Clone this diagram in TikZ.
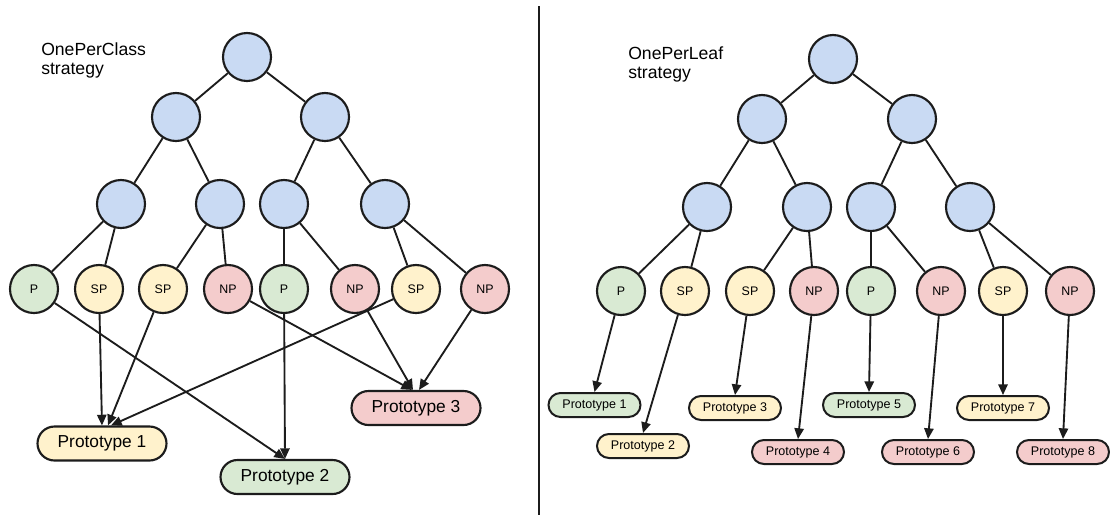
\documentclass[tikz,border=0pt]{standalone}
\usepackage{fontspec}
\setmainfont{Liberation Sans}
\usetikzlibrary{shapes.misc,arrows.meta}
\definecolor{nodeblue}{RGB}{201,218,243}
\definecolor{leafgreen}{RGB}{217,234,211}
\definecolor{leafyellow}{RGB}{255,242,204}
\definecolor{leafred}{RGB}{244,204,204}
\definecolor{inkline}{RGB}{28,28,28}
\begin{document}
\begin{tikzpicture}[x=0.75pt,y=-0.75pt,
  treenode/.style={circle,draw=inkline,line width=1.6pt,fill=nodeblue,minimum size=36pt,inner sep=0pt},
  leafnode/.style={circle,draw=inkline,line width=1.6pt,minimum size=36pt,inner sep=0pt,font=\fontsize{9.3}{11}\selectfont},
  posleaf/.style={leafnode,fill=leafgreen},
  semileaf/.style={leafnode,fill=leafyellow},
  negleaf/.style={leafnode,fill=leafred},
  link/.style={line width=1.4pt,draw=inkline},
  arr/.style={link,-{Triangle[length=8pt,width=7pt]}},
  protoL/.style={rounded rectangle,draw=inkline,line width=1.6pt,minimum width=96.75pt,minimum height=25.5pt,inner sep=0pt,font=\fontsize{13}{15}\selectfont},
  protoR/.style={rounded rectangle,draw=inkline,line width=1.5pt,minimum width=69pt,minimum height=18pt,inner sep=0pt,font=\fontsize{9.4}{11}\selectfont},
  heading/.style={anchor=north west,inner sep=0pt,align=left,font=\fontsize{13.2}{14.25}\selectfont}
]
\useasboundingbox (0,0) rectangle (1110,515);

% divider
\coordinate (divtop) at (539,6);
\coordinate (divbot) at (539,515);
\draw[line width=1.5pt,draw=inkline] (divtop) -- (divbot);

% ---------------- Left: OnePerClass ----------------
\node[heading] (tl) at (41,42) {OnePerClass\\strategy};

\node[treenode] (ra) at (247,57) {};
\node[treenode] (a1) at (176,117) {};
\node[treenode] (a2) at (325,117) {};
\node[treenode] (b1) at (121,204) {};
\node[treenode] (b2) at (220,204) {};
\node[treenode] (b3) at (284,204) {};
\node[treenode] (b4) at (385,204) {};

\node[posleaf]  (la1) at (34,289) {P};
\node[semileaf] (la2) at (99,289) {SP};
\node[semileaf] (la3) at (163,289) {SP};
\node[negleaf]  (la4) at (228,289) {NP};
\node[posleaf]  (la5) at (284,289) {P};
\node[negleaf]  (la6) at (355,289) {NP};
\node[semileaf] (la7) at (416,289) {SP};
\node[negleaf]  (la8) at (485,289) {NP};

\draw[link] (ra) -- (a1);
\draw[link] (ra) -- (a2);
\draw[link] (a1) -- (b1);
\draw[link] (a1) -- (b2);
\draw[link] (a2) -- (b3);
\draw[link] (a2) -- (b4);
\draw[link] (b1) -- (la1);
\draw[link] (b1) -- (la2);
\draw[link] (b2) -- (la3);
\draw[link] (b2) -- (la4);
\draw[link] (b3) -- (la5);
\draw[link] (b3) -- (la6);
\draw[link] (b4) -- (la7);
\draw[link] (b4) -- (la8);

\node[protoL,fill=leafyellow] (pa1) at (102,443.5) {Prototype 1};
\node[protoL,fill=leafgreen]  (pa2) at (285,477) {Prototype 2};
\node[protoL,fill=leafred]    (pa3) at (416,408) {Prototype 3};

\draw[arr] (la1) -- (pa2.north);
\draw[arr] (la2) -- (pa1.north);
\draw[arr] (la3) -- ([xshift=4.5pt]pa1.north);
\draw[arr] (la7) -- ([xshift=6.75pt]pa1.north);
\draw[arr] (la5) -- (pa2.north);
\draw[arr] (la4) -- ([xshift=-3pt]pa3.north);
\draw[arr] (la6) -- ([xshift=-2.25pt]pa3.north);
\draw[arr] (la8) -- ([xshift=2.25pt]pa3.north);

% ---------------- Right: OnePerLeaf ----------------
\node[heading] (tr) at (628,46) {OnePerLeaf\\strategy};

\node[treenode] (rb) at (833,59) {};
\node[treenode] (c1) at (762,119) {};
\node[treenode] (c2) at (912,119) {};
\node[treenode] (d1) at (707,207) {};
\node[treenode] (d2) at (807,207) {};
\node[treenode] (d3) at (871,207) {};
\node[treenode] (d4) at (970,207) {};

\node[posleaf]  (lb1) at (621,291) {P};
\node[semileaf] (lb2) at (685,291) {SP};
\node[semileaf] (lb3) at (750,291) {SP};
\node[negleaf]  (lb4) at (814,291) {NP};
\node[posleaf]  (lb5) at (871,291) {P};
\node[negleaf]  (lb6) at (941,291) {NP};
\node[semileaf] (lb7) at (1003,291) {SP};
\node[negleaf]  (lb8) at (1070,291) {NP};

\draw[link] (rb) -- (c1);
\draw[link] (rb) -- (c2);
\draw[link] (c1) -- (d1);
\draw[link] (c1) -- (d2);
\draw[link] (c2) -- (d3);
\draw[link] (c2) -- (d4);
\draw[link] (d1) -- (lb1);
\draw[link] (d1) -- (lb2);
\draw[link] (d2) -- (lb3);
\draw[link] (d2) -- (lb4);
\draw[link] (d3) -- (lb5);
\draw[link] (d3) -- (lb6);
\draw[link] (d4) -- (lb7);
\draw[link] (d4) -- (lb8);

\node[protoR,fill=leafgreen]  (pb1) at (594.5,405) {Prototype 1};
\node[protoR,fill=leafyellow] (pb2) at (643,446) {Prototype 2};
\node[protoR,fill=leafyellow] (pb3) at (735,408) {Prototype 3};
\node[protoR,fill=leafred]    (pb4) at (798,452) {Prototype 4};
\node[protoR,fill=leafgreen]  (pb5) at (869,405) {Prototype 5};
\node[protoR,fill=leafred]    (pb6) at (928,452) {Prototype 6};
\node[protoR,fill=leafyellow] (pb7) at (1003,408) {Prototype 7};
\node[protoR,fill=leafred]    (pb8) at (1063,452) {Prototype 8};

\draw[arr] (lb1) -- (pb1.north);
\draw[arr] (lb2) -- (pb2.north);
\draw[arr] (lb3) -- (pb3.north);
\draw[arr] (lb4) -- (pb4.north);
\draw[arr] (lb5) -- (pb5.north);
\draw[arr] (lb6) -- (pb6.north);
\draw[arr] (lb7) -- (pb7.north);
\draw[arr] (lb8) -- (pb8.north);
\end{tikzpicture}
\end{document}
